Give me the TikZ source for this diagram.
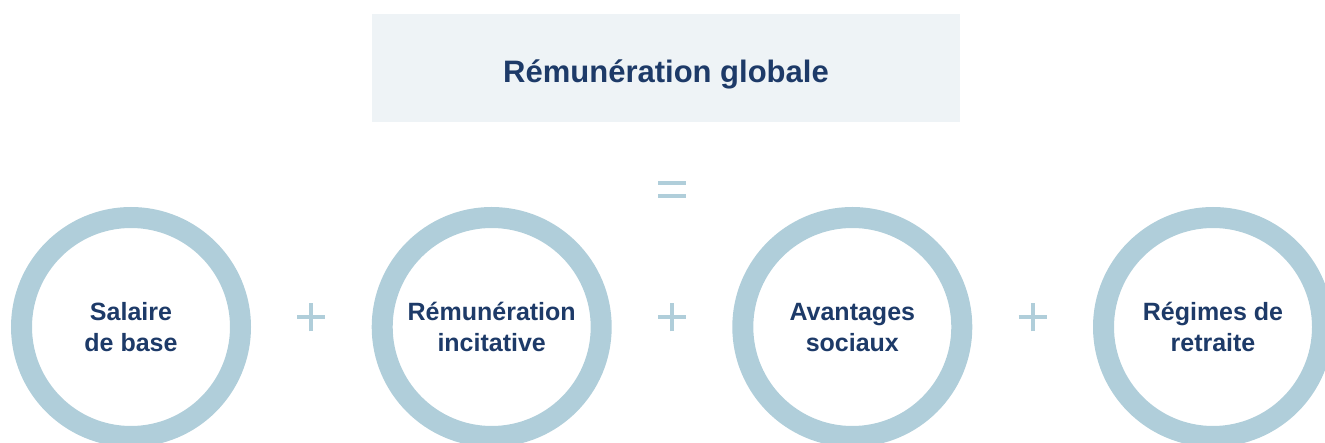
\documentclass[tikz,border=0pt]{standalone}
\usepackage{fontspec}
\setmainfont{Liberation Sans}
\definecolor{ringcol}{HTML}{B0CEDA}
\definecolor{navy}{HTML}{1D3A68}
\definecolor{boxbg}{HTML}{EEF3F6}
\begin{document}
\begin{tikzpicture}[x=1pt,y=-1pt,
  ringnode/.style={circle, draw=ringcol, line width=21pt, minimum size=219pt, inner sep=0pt},
  ringtext/.style={align=center, text=navy, font=\bfseries\fontsize{25}{31}\selectfont, inner sep=0pt, text depth=0pt, text height=49pt},
  signline/.style={draw=ringcol, line width=4pt},
  titlebox/.style={fill=boxbg, minimum width=588pt, minimum height=108pt, inner sep=0pt},
  titletext/.style={text=navy, font=\bfseries\fontsize{31}{37}\selectfont, inner sep=0pt}
  ]
\useasboundingbox (0,0) rectangle (1325,443);
\clip (0,0) rectangle (1325,443);
\node[titlebox] (box) at (666,68) {};
\node[titletext, anchor=base] (title) at (666,83) {Rémunération globale};
% equals
\node[inner sep=0pt] (eq) at (672,189.5) {};
\draw[signline] ([xshift=-14pt,yshift=6.5pt]eq.center) -- ([xshift=14pt,yshift=6.5pt]eq.center);
\draw[signline] ([xshift=-14pt,yshift=-6.5pt]eq.center) -- ([xshift=14pt,yshift=-6.5pt]eq.center);
% circles
\node[ringnode] (c1) at (131,327) {};
\node[ringnode] (c2) at (491.7,327) {};
\node[ringnode] (c3) at (852.3,327) {};
\node[ringnode] (c4) at (1213,327) {};
\node[ringtext] (t1) at (c1.center) {Salaire\\de base};
\node[ringtext] (t2) at (c2.center) {Rémunération\\incitative};
\node[ringtext] (t3) at (c3.center) {Avantages\\sociaux};
\node[ringtext] (t4) at (c4.center) {Régimes de\\retraite};
% plus signs
\node[inner sep=0pt] (p1) at (311.3,317.5) {};
\node[inner sep=0pt] (p2) at (672,317.5) {};
\node[inner sep=0pt] (p3) at (1032.7,317.5) {};
\foreach \p in {p1,p2,p3}{
  \draw[signline] ([xshift=-14pt]\p.center) -- ([xshift=14pt]\p.center);
  \draw[signline] ([yshift=-14pt]\p.center) -- ([yshift=14pt]\p.center);
}
\end{tikzpicture}
\end{document}
